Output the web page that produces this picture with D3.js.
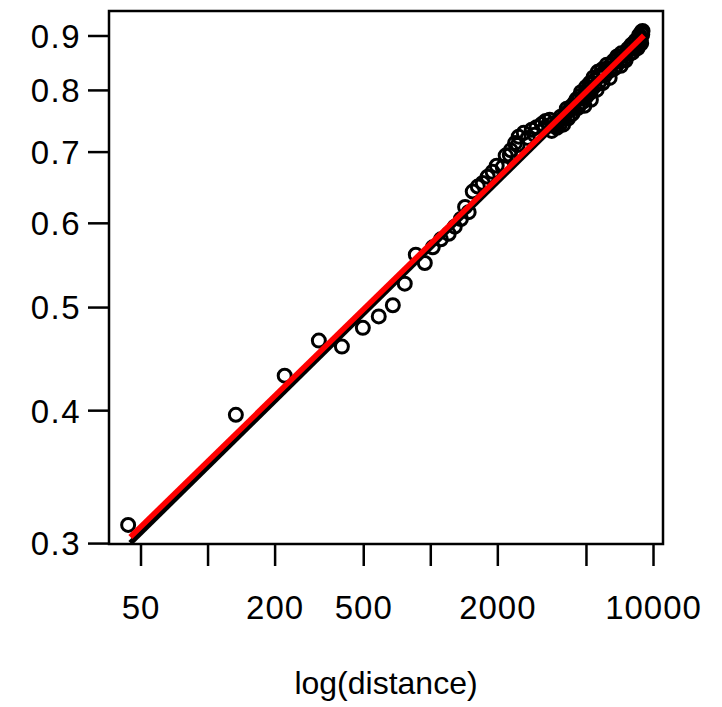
<!DOCTYPE html>
<html>
<head>
<meta charset="utf-8">
<script src="https://cdn.jsdelivr.net/npm/d3@7"></script>
<style>
  html, body { margin: 0; padding: 0; background: #fff; }
  svg { display: block; }
  text { font-family: "Liberation Sans", Arial, Helvetica, sans-serif; fill: #000; }
</style>
</head>
<body>
<svg id="chart" width="722" height="707"></svg>
<script>
const distance = [44,134,222,316,401,498,587,679,768,861,945,1026,1116,1210,1288,1372,1433,1487,1551,1634,1720,1810,1905,1987,2115,2180,2298,2402,2494,2628,2739,2855,2999,3165,3298,3438,3620,3732,3893,4057,4229,4403,4542,4679,4823,4970,5156,5317,5471,5584,5761,6003,6253,6516,6790,7008,7306,7615,7856,8188,8449,8700,8880,8975,8790,8536,8104,7537,7162,6387,5940,5262,4921,4590,4273,3811,3264,2941,2468,2275,3510,
  3550,3700,3850,3950,4100,4150,4300,4350,4480,4600,4750,4850,5000,5050,5200,5250,5400,5450,5650,5700,5900,6100,6200,6400,6650,6700,6900,7100,7200,7400,7700,7950,8000,8300,8350,8600,8650,8800,8950,8850];
const similarity = [0.312,0.396,0.431,0.465,0.459,0.478,0.490,0.502,0.526,0.560,0.550,0.569,0.579,0.586,0.595,0.605,0.621,0.614,0.642,0.649,0.654,0.663,0.670,0.679,0.677,0.694,0.702,0.713,0.723,0.729,0.721,0.734,0.738,0.743,0.748,0.750,0.740,0.746,0.751,0.760,0.766,0.774,0.784,0.789,0.779,0.795,0.803,0.810,0.817,0.800,0.824,0.831,0.839,0.846,0.841,0.857,0.861,0.868,0.876,0.884,0.891,0.899,0.907,0.909,0.891,0.876,0.868,0.853,0.843,0.821,0.812,0.783,0.773,0.769,0.758,0.742,0.737,0.726,0.710,0.695,0.732,
  0.744,0.737,0.755,0.742,0.768,0.752,0.772,0.760,0.780,0.771,0.796,0.786,0.805,0.790,0.812,0.796,0.822,0.806,0.832,0.812,0.836,0.826,0.845,0.834,0.852,0.838,0.860,0.850,0.866,0.856,0.874,0.866,0.882,0.874,0.890,0.884,0.900,0.895,0.902,0.885];

const blackLineX = [45, 9100];
const blackLineY = [0.300, 0.896];
const redLineX = [45, 9100];
const redLineY = [0.304, 0.900];

const xTicks = [50, 100, 200, 500, 1000, 2000, 5000, 10000];
const xTickLabels = ["50", "", "200", "500", "", "2000", "", "10000"];
const yTicks = [0.3, 0.4, 0.5, 0.6, 0.7, 0.8, 0.9];
const yTickLabels = ["0.3", "0.4", "0.5", "0.6", "0.7", "0.8", "0.9"];
const xTitle = "log(distance)";

const svg = d3.select("#chart");
const mLeft = 109, mRight = 663, mTop = 11, mBottom = 544;
const fontFam = '"Liberation Sans", Arial, sans-serif';

const x = d3.scaleLog().domain([36.1, 11088]).range([mLeft, mRight]);
const y = d3.scaleLog().domain([0.2994, 0.949]).range([mBottom, mTop]);

// points
const pts = distance.map((d, i) => [d, similarity[i]]);
svg.append("g").selectAll("circle").data(pts).enter().append("circle")
  .attr("cx", d => x(d[0])).attr("cy", d => y(d[1])).attr("r", 6.5)
  .attr("fill", "none").attr("stroke", "#000").attr("stroke-width", 3);

const line = d3.line().x(d => x(d[0])).y(d => y(d[1]));
svg.append("path").datum(blackLineX.map((d, i) => [d, blackLineY[i]]))
  .attr("d", line).attr("fill", "none").attr("stroke", "#000").attr("stroke-width", 5.5);
svg.append("path").datum(redLineX.map((d, i) => [d, redLineY[i]]))
  .attr("d", line).attr("fill", "none").attr("stroke", "#ff0000").attr("stroke-width", 5.5);

// box
svg.append("rect").attr("x", mLeft).attr("y", mTop).attr("width", mRight - mLeft).attr("height", mBottom - mTop)
  .attr("fill", "none").attr("stroke", "#000").attr("stroke-width", 2.5);

// x axis
const xAxis = d3.axisBottom(x).tickValues(xTicks).tickSize(22).tickPadding(8)
  .tickFormat((d, i) => xTickLabels[i]);
const gx = svg.append("g").attr("transform", `translate(0,${mBottom})`).call(xAxis);
gx.select(".domain").remove();
gx.selectAll(".tick line").attr("stroke", "#000").attr("stroke-width", 2.5);
gx.selectAll(".tick text").attr("font-size", 33).attr("dy", 45)
  .style("font-family", fontFam).attr("letter-spacing", 1);

// y axis
const yAxis = d3.axisLeft(y).tickValues(yTicks).tickSize(21).tickPadding(7)
  .tickFormat((d, i) => yTickLabels[i]);
const gy = svg.append("g").attr("transform", `translate(${mLeft},0)`).call(yAxis);
gy.select(".domain").remove();
gy.selectAll(".tick line").attr("stroke", "#000").attr("stroke-width", 2.5);
gy.selectAll(".tick text").attr("font-size", 33).attr("dy", "0.36em")
  .style("font-family", fontFam).attr("letter-spacing", 1.5);

svg.append("text").attr("x", (mLeft + mRight) / 2).attr("y", 694)
  .attr("text-anchor", "middle").attr("font-size", 32).style("font-family", fontFam).text(xTitle);
</script>
</body>
</html>
